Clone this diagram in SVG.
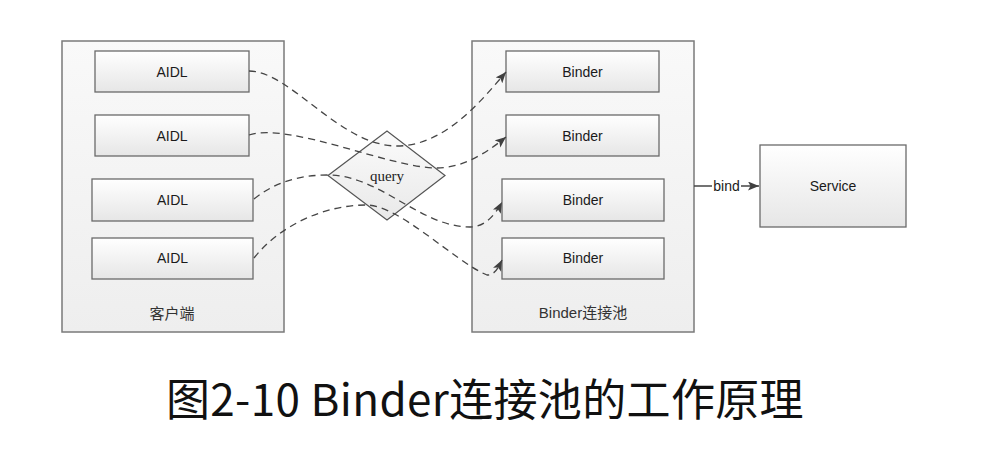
<svg xmlns="http://www.w3.org/2000/svg" width="1002" height="474" viewBox="0 0 1002 474">
<style>
.cont{fill:url(#gc);stroke:#7a7a7a;stroke-width:1.5}
.box{fill:url(#gb);stroke:#6a6a6a;stroke-width:1.3}
.lbl{font-family:"Liberation Sans","Noto Sans",sans-serif;font-size:14px;fill:#1a1a1a;text-anchor:middle}
.cjk{font-family:"Liberation Sans","Noto Sans CJK SC",sans-serif;font-size:15px;fill:#333;text-anchor:middle}
.dash{fill:none;stroke:#454545;stroke-width:1.3;stroke-dasharray:7 5;marker-end:url(#ah)}
.solid{fill:none;stroke:#454545;stroke-width:1.3}
</style>
<defs>
<linearGradient id="gb" x1="0" y1="0" x2="0" y2="1"><stop offset="0" stop-color="#ffffff"/><stop offset="1" stop-color="#e6e6e6"/></linearGradient>
<linearGradient id="gc" x1="0" y1="0" x2="0" y2="1"><stop offset="0" stop-color="#f9f9f9"/><stop offset="1" stop-color="#eeeeee"/></linearGradient>
<linearGradient id="gd" x1="0" y1="0" x2="0" y2="1"><stop offset="0" stop-color="#fbfbfb"/><stop offset="1" stop-color="#e9e9e9"/></linearGradient>
<marker id="ah" markerUnits="userSpaceOnUse" markerWidth="12" markerHeight="10" refX="11" refY="4.5" orient="auto"><path d="M0,0 L11,4.5 L0,9 L2.5,4.5 z" fill="#404040"/></marker>
</defs>
<rect width="1002" height="474" fill="#ffffff"/>

<g id="client">
<rect class="cont" x="62" y="41" width="222" height="291"/>
<text class="cjk" x="172" y="319">客户端</text>
</g>
<g id="aidl1"><rect class="box" x="95" y="51" width="154" height="41"/><text class="lbl" x="172" y="76.5">AIDL</text></g>
<g id="aidl2"><rect class="box" x="95" y="115" width="154" height="41"/><text class="lbl" x="172" y="140.5">AIDL</text></g>
<g id="aidl3"><rect class="box" x="92" y="179" width="161" height="42"/><text class="lbl" x="172.5" y="204.5">AIDL</text></g>
<g id="aidl4"><rect class="box" x="92" y="238" width="161" height="41"/><text class="lbl" x="172.5" y="263">AIDL</text></g>

<g id="pool">
<rect class="cont" x="472" y="41" width="222" height="291"/>
<text class="cjk" x="583" y="318">Binder连接池</text>
</g>
<g id="binder1"><rect class="box" x="506" y="51" width="153" height="41"/><text class="lbl" x="582.5" y="76.5">Binder</text></g>
<g id="binder2"><rect class="box" x="506" y="115" width="153" height="41"/><text class="lbl" x="582.5" y="140.5">Binder</text></g>
<g id="binder3"><rect class="box" x="502" y="179" width="162" height="42"/><text class="lbl" x="583" y="204.5">Binder</text></g>
<g id="binder4"><rect class="box" x="502" y="238" width="162" height="41"/><text class="lbl" x="583" y="263">Binder</text></g>

<g id="service"><rect class="box" x="760" y="145" width="146" height="82"/><text class="lbl" x="833" y="190.5">Service</text></g>

<g id="query">
<polygon points="328,175.5 387,131 445,175.5 387,220" fill="url(#gd)" stroke="#555" stroke-width="1.2"/>
<text x="387" y="181" font-family="'Liberation Serif',serif" font-size="15" fill="#222" text-anchor="middle">query</text>
</g>

<g id="connectors">
<path class="dash" d="M249,71 C290,71 340,146 397,146 C445,146 482,100 506,72"/>
<path class="dash" d="M249,135 C290,122 390,168 437,168 C465,168 490,150 506,137"/>
<path class="dash" d="M254,199 C275,182 300,175 328,175 C380,175 420,227 470,227 C485,227 495,215 502,202"/>
<path class="dash" d="M254,258 C280,225 325,205 366,205 C400,205 455,262 487,275 C495,275 498,268 502,260"/>
<path class="solid" d="M694,186 H712 M741,186 H759" marker-end="url(#ah)"/>
<text class="lbl" x="726.5" y="190.5">bind</text>
</g>

<g id="caption">
<text x="166" y="416" font-family="'Noto Sans CJK SC',sans-serif" font-size="44" letter-spacing="0.35" fill="#111">图2-10 Binder连接池的工作原理</text>
</g>
</svg>
